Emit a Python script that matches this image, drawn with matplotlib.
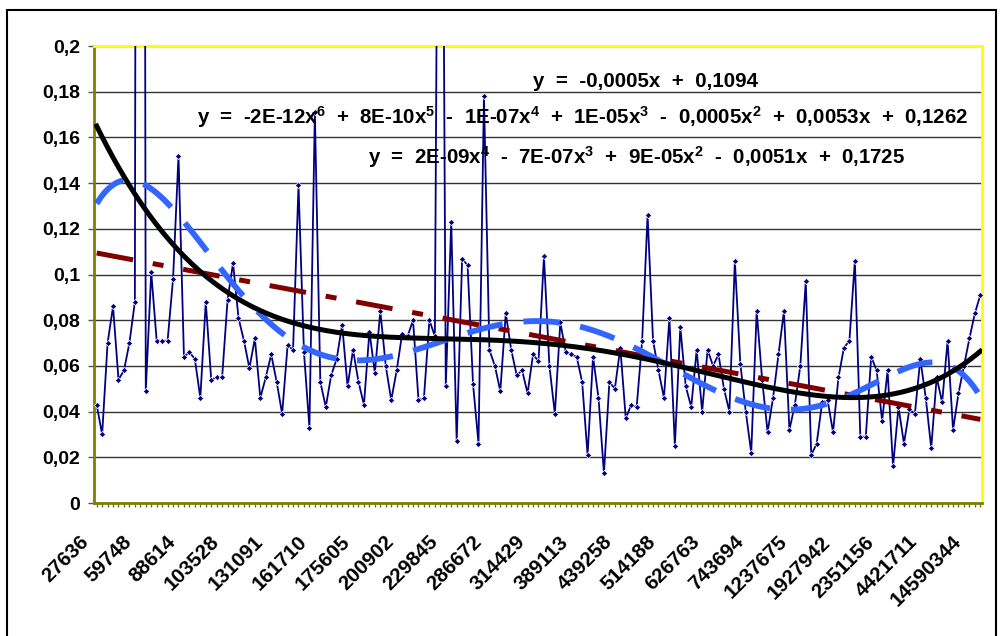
import matplotlib
matplotlib.use('Agg')
import matplotlib.pyplot as plt
import matplotlib.transforms as mtransforms
from matplotlib.patches import Rectangle
import numpy as np

plt.rcParams['font.family'] = ['Liberation Sans', 'DejaVu Sans']
plt.rcParams['font.weight'] = 'bold'
plt.rcParams['mathtext.fontset'] = 'custom'
plt.rcParams['mathtext.rm'] = 'Liberation Sans:bold'
plt.rcParams['mathtext.default'] = 'regular'

# series values (two points go far above the 0.2 axis max)
values = [
    0.043, 0.030, 0.070, 0.086, 0.054, 0.058, 0.070, 0.088, 1.450, 0.049,
    0.101, 0.071, 0.071, 0.071, 0.098, 0.152, 0.064, 0.066, 0.063, 0.046,
    0.088, 0.054, 0.055, 0.055, 0.089, 0.105, 0.081, 0.071, 0.059, 0.072,
    0.046, 0.055, 0.065, 0.053, 0.039, 0.069, 0.067, 0.139, 0.066, 0.033,
    0.171, 0.053, 0.042, 0.056, 0.063, 0.078, 0.051, 0.067, 0.053, 0.043,
    0.075, 0.057, 0.084, 0.060, 0.045, 0.058, 0.074, 0.073, 0.080, 0.045,
    0.046, 0.080, 0.073, 0.500, 0.051, 0.123, 0.027, 0.107, 0.104, 0.052,
    0.026, 0.178, 0.067, 0.060, 0.049, 0.083, 0.067, 0.056, 0.058, 0.048,
    0.065, 0.062, 0.108, 0.060, 0.039, 0.079, 0.066, 0.065, 0.064, 0.053,
    0.021, 0.064, 0.046, 0.013, 0.053, 0.050, 0.068, 0.037, 0.043, 0.042,
    0.071, 0.126, 0.071, 0.058, 0.046, 0.081, 0.025, 0.077, 0.051, 0.042,
    0.067, 0.040, 0.067, 0.060, 0.065, 0.050, 0.040, 0.106, 0.061, 0.040,
    0.022, 0.084, 0.054, 0.031, 0.046, 0.065, 0.084, 0.032, 0.043, 0.060,
    0.097, 0.021, 0.026, 0.044, 0.045, 0.031, 0.055, 0.068, 0.071, 0.106,
    0.029, 0.029, 0.064, 0.058, 0.036, 0.058, 0.016, 0.042, 0.026, 0.041,
    0.039, 0.063, 0.046, 0.024, 0.055, 0.044, 0.071, 0.032, 0.048, 0.060,
    0.072, 0.083, 0.091,
]

# category labels shown every 8th point
tick_labels = ['27636', '59748', '88614', '103528', '131091', '161710', '175605',
               '200902', '229845', '286672', '314429', '389113', '439258', '514188',
               '626763', '743694', '1237675', '1927942', '2351156', '4421711',
               '14590344']
label_step = 8

y_ticks = [0, 0.02, 0.04, 0.06, 0.08, 0.1, 0.12, 0.14, 0.16, 0.18, 0.2]
y_tick_labels = ['0', '0,02', '0,04', '0,06', '0,08', '0,1', '0,12', '0,14',
                 '0,16', '0,18', '0,2']

eq_linear = 'y = -0,0005x + 0,1094'
eq_poly6 = (r'y = -2E-12x$^6$ + 8E-10x$^5$ - 1E-07x$^4$ + 1E-05x$^3$'
            r' - 0,0005x$^2$ + 0,0053x + 0,1262')
eq_poly4 = r'y = 2E-09x$^4$ - 7E-07x$^3$ + 9E-05x$^2$ - 0,0051x + 0,1725'

W, H = 1004, 636
fig = plt.figure(figsize=(W / 100, H / 100), dpi=100)
ax = fig.add_axes([94.5 / W, 1 - 503 / H, 888 / W, 457 / H])

n = len(values)
idx = np.arange(n)
y = np.array(values)

# trendlines, excel style (x = 1..n)
xs = idx + 1
fit1 = np.polyfit(xs, y, 1)
fit4 = np.polyfit(xs, y, 4)
fit6 = np.polyfit(xs, y, 6)
xx = np.linspace(1, n, 500)

ax.plot(idx, y, color='#000080', lw=1.3, marker='D', ms=3.2, mfc='#000080',
        mec='white', mew=0.5, zorder=3)
ax.plot(xx - 1, np.polyval(fit1, xx), color='#800000', lw=3.6,
        ls=(0, (7.4, 4, 2.2, 4)), dash_capstyle='butt', zorder=4)
ax.plot(xx - 1, np.polyval(fit6, xx), color='#3366FF', lw=4.2,
        ls=(0, (6.2, 3.6)), dash_capstyle='butt', zorder=4)
ax.plot(xx - 1, np.polyval(fit4, xx), color='black', lw=3.6, zorder=5)

ax.set_xlim(-0.4, n - 0.6)
ax.set_ylim(0, 0.2)

ax.set_yticks(y_ticks)
ax.set_yticklabels(y_tick_labels, fontsize=14, fontweight='bold')
ax.yaxis.grid(True, color='#333333', lw=1)
ax.set_axisbelow(True)
ax.tick_params(axis='y', direction='out', length=4.5, width=1, color='#555555', pad=6)

ax.set_xticks(idx, minor=True)
ax.set_xticks(idx[::label_step])
ax.set_xticklabels([])
ax.tick_params(axis='x', which='both', direction='out', length=3, width=1, color='#666666')

off = mtransforms.ScaledTranslation(-11 / 100, -36 / 100, fig.dpi_scale_trans)
trans = mtransforms.blended_transform_factory(ax.transData, ax.transAxes) + off
for pos, lab in zip(idx[::label_step], tick_labels):
    ax.text(pos, 0, lab, transform=trans, rotation=45, rotation_mode='anchor',
            ha='right', va='center', fontsize=14.8, fontweight='bold')

for side, col in [('left', '#808000'), ('bottom', '#808000'),
                  ('top', '#FFFF00'), ('right', '#FFFF00')]:
    ax.spines[side].set_color(col)
    ax.spines[side].set_linewidth(2)

# excel spaces the trendline labels widely
def wide(s):
    return s.replace(' ', '  ')

fig.text(532.7 / W, 1 - 86.7 / H, wide(eq_linear), ha='left', va='baseline',
         fontsize=14.8, fontweight='bold')
fig.text(197 / W, 1 - 123.3 / H, wide(eq_poly6), ha='left', va='baseline',
         fontsize=14.8, fontweight='bold')
fig.text(368 / W, 1 - 163.3 / H, wide(eq_poly4), ha='left', va='baseline',
         fontsize=14.8, fontweight='bold')

fig.add_artist(Rectangle((7 / W, -0.05), 989 / W, (626 / H) + 0.05,
                         transform=fig.transFigure, fill=False, ec='black', lw=1.5))

fig.savefig('out.png', dpi=100)
